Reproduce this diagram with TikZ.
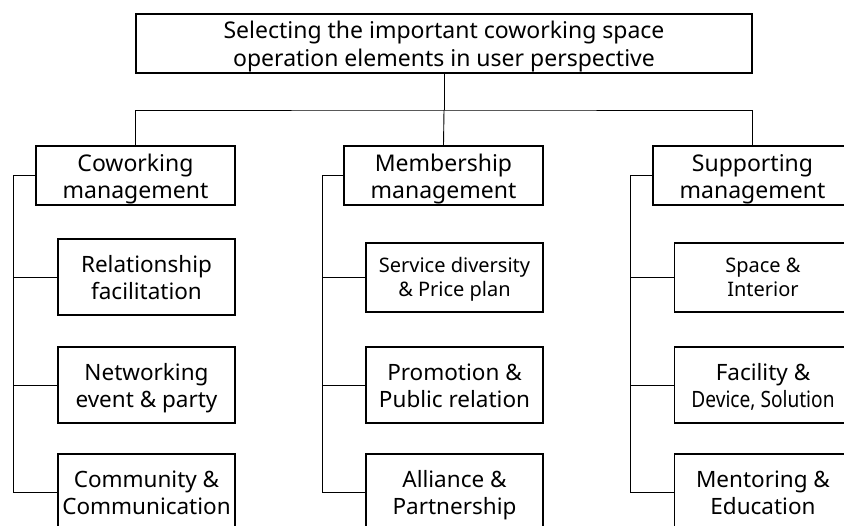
\documentclass[tikz,border=0pt]{standalone}
\usepackage{fontspec}
\setmainfont{Noto Sans}
\newcommand\twol[2]{\rule{0pt}{24.5pt}#1\\#2\rule[-6pt]{0pt}{6pt}}
\newcommand\twols[2]{\rule{0pt}{20.5pt}#1\\#2\rule[-6pt]{0pt}{6pt}}
\begin{document}
\begin{tikzpicture}[x=1pt,y=-1pt,
  box/.style={draw, line width=1.8pt, align=center, inner sep=0pt, font=\fontsize{22.5}{27}\selectfont},
  topbox/.style={box, minimum width=616pt, minimum height=59pt, font=\fontsize{23}{28}\selectfont},
  headbox/.style={box, minimum width=199pt, minimum height=59pt, font=\fontsize{23}{27}\selectfont},
  childbox/.style={box, minimum width=177pt, minimum height=76pt},
  childboxs/.style={box, minimum width=177pt, minimum height=69pt, font=\fontsize{20}{24}\selectfont},
  link/.style={line width=0.9pt}]
\clip (0,0) rectangle (844,526);
\node[topbox] (top) at (444,43.5) {\twol{Selecting the important coworking space}{operation elements in user perspective}};
\node[headbox] (h1) at (135.5,175.5) {\twol{Coworking}{management}};
\node[headbox] (h2) at (443.5,175.5) {\twol{Membership}{management}};
\node[headbox] (h3) at (752.5,175.5) {\twol{Supporting}{management}};
% left column
\node[childbox] (c11) at (146.5,277) {\twol{Relationship}{facilitation}};
\node[childbox] (c12) at (146.5,385) {\twol{Networking}{event \& party}};
\node[childbox] (c13) at (146.5,492) {\twol{Community \&}{Communication}};
% middle column
\node[childboxs] (c21) at (454.5,277.5) {\twols{Service diversity}{\& Price plan}};
\node[childbox] (c22) at (454.5,385) {\twol{Promotion \&}{Public relation}};
\node[childbox] (c23) at (454.5,492) {\twol{Alliance \&}{Partnership}};
% right column
\node[childboxs] (c31) at (763,277.5) {\twols{Space \&}{Interior}};
\node[childbox] (c32) at (763,385) {\twol{Facility \&}{\scalebox{0.85}[1]{Device, Solution}}};
\node[childbox] (c33) at (763,492) {\twol{Mentoring \&}{Education}};
% connectors
\coordinate (j) at (444,110);
\draw[link] (top.south) -- (j);
\draw[link] (h1.north) |- (j) -| (h3.north);
\draw[link] (j) -- (h2.north);
\coordinate (s1) at (13,492);
\coordinate (s2) at (322,492);
\coordinate (s3) at (630,492);
\draw[link] (h1.west) -| (s1);
\draw[link] (h2.west) -| (s2);
\draw[link] (h3.west) -| (s3);
\foreach \c/\s in {c11/s1,c12/s1,c13/s1,c21/s2,c22/s2,c23/s2,c31/s3,c32/s3,c33/s3}
  \draw[link] (\c.west) -- (\c.west -| \s);
\end{tikzpicture}
\end{document}
